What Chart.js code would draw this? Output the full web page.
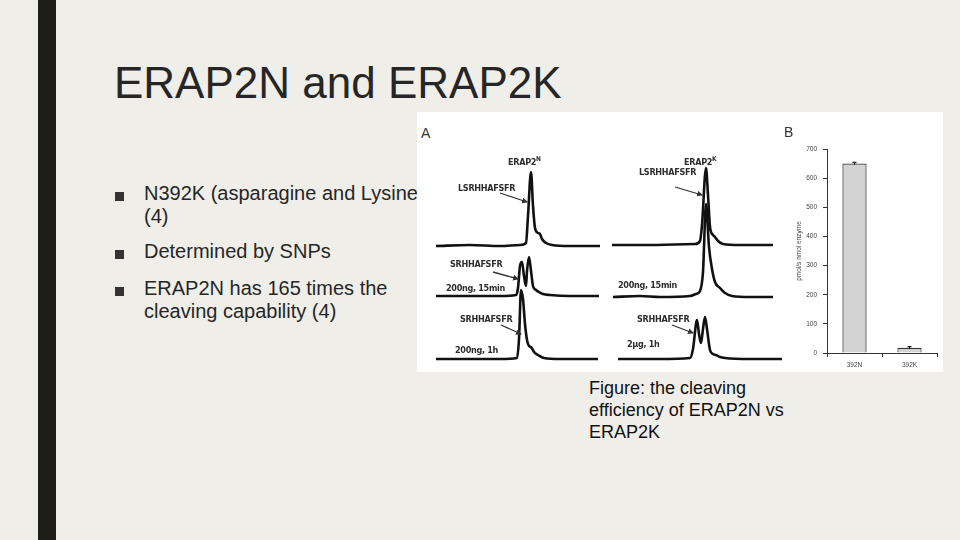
<!DOCTYPE html>
<html>
<head>
<meta charset="utf-8">
<script src="https://cdn.jsdelivr.net/npm/chart.js@4.4.0/dist/chart.umd.min.js"></script>
<style>
  html,body{margin:0;padding:0;}
  body{width:960px;height:540px;background:#efeee9;position:relative;overflow:hidden;font-family:"Liberation Sans",Arial,sans-serif;color:#262626;}
  .abs{position:absolute;white-space:nowrap;line-height:1;}
  .sq{position:absolute;width:9px;height:9px;background:#333;}
  .lbl{position:absolute;white-space:nowrap;line-height:1;font-family:"Liberation Sans Narrow","DejaVu Sans Condensed","Liberation Sans",sans-serif;font-weight:bold;font-size:9px;letter-spacing:-0.3px;color:#2e2e2e;z-index:3;}
  .lbl sup{font-size:6.5px;vertical-align:0;position:relative;top:-4px;}
  canvas{position:absolute;z-index:2;}
</style>
</head>
<body>
<div style="position:absolute;left:38px;top:0;width:18px;height:540px;background:#1d1f16;"></div>
<div class="abs" style="left:114px;top:61px;font-size:44px;">ERAP2N and ERAP2K</div>

<div class="sq" style="left:115px;top:192px;"></div>
<div class="abs" style="left:144px;top:183px;font-size:20px;">N392K (asparagine and Lysine)</div>
<div class="abs" style="left:144px;top:206px;font-size:20px;">(4)</div>
<div class="sq" style="left:115px;top:250px;"></div>
<div class="abs" style="left:144px;top:241px;font-size:20px;">Determined by SNPs</div>
<div class="sq" style="left:115px;top:287px;"></div>
<div class="abs" style="left:144px;top:278px;font-size:20px;">ERAP2N has 165 times the</div>
<div class="abs" style="left:144px;top:301px;font-size:20px;">cleaving capability (4)</div>

<div style="position:absolute;left:417px;top:112px;width:526px;height:260px;background:#ffffff;z-index:1;"></div>

<div class="abs" style="left:421px;top:126px;font-size:14px;color:#333;z-index:3;">A</div>
<div class="abs" style="left:784px;top:125px;font-size:14px;color:#333;z-index:3;">B</div>

<div class="lbl" style="left:508px;top:158px;">ERAP2<sup>N</sup></div>
<div class="lbl" style="left:458px;top:184px;">LSRHHAFSFR</div>
<div class="lbl" style="left:450px;top:260px;">SRHHAFSFR</div>
<div class="lbl" style="left:446px;top:284px;">200ng, 15min</div>
<div class="lbl" style="left:460px;top:315px;">SRHHAFSFR</div>
<div class="lbl" style="left:455px;top:346px;">200ng, 1h</div>
<div class="lbl" style="left:684px;top:158px;">ERAP2<sup>K</sup></div>
<div class="lbl" style="left:639px;top:168px;">LSRHHAFSFR</div>
<div class="lbl" style="left:618px;top:281px;">200ng, 15min</div>
<div class="lbl" style="left:637px;top:315px;">SRHHAFSFR</div>
<div class="lbl" style="left:627px;top:340px;">2μg, 1h</div>

<svg style="position:absolute;left:0;top:0;z-index:3;" width="960" height="540">
  <defs>
    <marker id="ah" markerWidth="6" markerHeight="6" refX="5" refY="3" orient="auto" markerUnits="userSpaceOnUse">
      <path d="M0,0 L6,3 L0,6 z" fill="#333"/>
    </marker>
  </defs>
  <g stroke="#333" stroke-width="1.3" marker-end="url(#ah)">
    <line x1="500" y1="193" x2="527" y2="202"/>
    <line x1="493" y1="272" x2="518" y2="279"/>
    <line x1="501" y1="325" x2="521" y2="334"/>
    <line x1="675" y1="187" x2="702" y2="195"/>
    <line x1="672" y1="325" x2="693" y2="333"/>
  </g>
</svg>

<canvas id="n1" width="175" height="110" style="left:430px;top:141px;"></canvas>
<canvas id="n2" width="175" height="110" style="left:430px;top:191px;"></canvas>
<canvas id="n3" width="175" height="110" style="left:430px;top:254px;"></canvas>
<canvas id="k1" width="180" height="110" style="left:607px;top:140px;"></canvas>
<canvas id="k2" width="180" height="110" style="left:607px;top:192px;"></canvas>
<canvas id="k3" width="180" height="110" style="left:607px;top:254px;"></canvas>
<canvas id="bar" width="163" height="244" style="left:780px;top:128px;"></canvas>

<div class="abs" style="left:589px;top:379px;font-size:18px;color:#111;">Figure: the cleaving</div>
<div class="abs" style="left:589px;top:401px;font-size:18px;color:#111;">efficiency of ERAP2N vs</div>
<div class="abs" style="left:589px;top:423px;font-size:18px;color:#111;">ERAP2K</div>

<script>
// ---- Panel A: chromatogram traces (retention time units, intensity units) ----
const nSubstrateTime = [6, 40, 70, 90, 96, 98, 101, 103, 105, 108, 110, 112, 116, 122, 140, 170];
const nSubstrateInt  = [0, 1, 0, 1, 3, 30, 74, 40, 18, 13, 12, 7, 3, 1, 0, 0];
const n15minTime = [6, 70, 86, 88, 90, 92, 94, 96, 97, 99, 101, 103, 106, 109, 113, 120, 140, 169];
const n15minInt  = [0, 0, 1, 8, 30, 34, 20, 10, 25, 39, 25, 10, 6, 4, 2, 1, 0, 0];
const n1hTime = [6, 70, 87, 89, 91, 93, 95, 97, 99, 101, 104, 108, 114, 130, 168];
const n1hInt  = [0, 0, 1, 20, 69, 60, 35, 19, 13, 12, 7, 4, 1, 0, 0];

const kSubstrateTime = [5, 43, 88, 93, 95, 99, 101, 103, 106, 108, 111, 116, 133, 166];
const kSubstrateInt  = [0, 0, 1, 4, 20, 77, 50, 18, 10, 8, 4, 1, 0, 0];
const k15minTime = [6, 33, 53, 83, 89, 93, 96, 99, 102, 105, 108, 113, 118, 125, 143, 166];
const k15minInt  = [0, 1, 0, 1, 3, 6, 25, 93, 50, 28, 15, 9, 4, 1, 0, 0];
const k1hTime = [11, 53, 83, 86, 90, 92, 94, 96, 98, 100, 103, 106, 109, 113, 118, 143, 175];
const k1hInt  = [0, 0, 1, 10, 39, 25, 16, 30, 42, 30, 9, 5, 4, 2, 1, 0, 0];

// ---- Panel B: bar chart ----
const barCategories = ['392N', '392K'];
const barValues = [650, 18];
const barErrors = [4, 4];
const yTickValues = [0, 100, 200, 300, 400, 500, 600, 700];
const yAxisTitle = 'pmol/s nmol enzyme';

function trace(id, times, ints, xMax) {
  new Chart(document.getElementById(id), {
    type: 'line',
    data: { datasets: [{
      data: times.map((t, i) => ({ x: t, y: ints[i] })),
      borderColor: '#111', borderWidth: 2.6, pointRadius: 0,
      cubicInterpolationMode: 'monotone', clip: false, fill: false
    }]},
    options: {
      responsive: false, animation: false, devicePixelRatio: 1, events: [],
      layout: { padding: 0 },
      plugins: { legend: { display: false }, tooltip: { enabled: false } },
      scales: {
        x: { type: 'linear', display: false, min: 0, max: xMax },
        y: { type: 'linear', display: false, min: -5, max: 105 }
      }
    }
  });
}
trace('n1', nSubstrateTime, nSubstrateInt, 175);
trace('n2', n15minTime, n15minInt, 175);
trace('n3', n1hTime, n1hInt, 175);
trace('k1', kSubstrateTime, kSubstrateInt, 180);
trace('k2', k15minTime, k15minInt, 180);
trace('k3', k1hTime, k1hInt, 180);

const errorBars = {
  id: 'errorBars',
  afterDatasetsDraw(chart) {
    const ctx = chart.ctx, y = chart.scales.y;
    const meta = chart.getDatasetMeta(0);
    ctx.save();
    ctx.strokeStyle = '#222'; ctx.lineWidth = 1.2;
    meta.data.forEach((bar, i) => {
      const top = y.getPixelForValue(barValues[i] + barErrors[i]);
      const bot = y.getPixelForValue(barValues[i] - barErrors[i]);
      ctx.beginPath();
      ctx.moveTo(bar.x, bot); ctx.lineTo(bar.x, top);
      ctx.moveTo(bar.x - 2, top); ctx.lineTo(bar.x + 2, top);
      ctx.stroke();
    });
    ctx.restore();
  }
};

new Chart(document.getElementById('bar'), {
  type: 'bar',
  data: { labels: barCategories, datasets: [{
    data: barValues, backgroundColor: '#d2d2d2', borderColor: '#333', borderWidth: 1.2,
    barPercentage: 0.44, categoryPercentage: 1
  }]},
  plugins: [errorBars],
  options: {
    responsive: false, animation: false, devicePixelRatio: 1, events: [],
    layout: { padding: { top: 21, right: 6, left: 0, bottom: 0 } },
    plugins: { legend: { display: false }, tooltip: { enabled: false } },
    scales: {
      x: {
        grid: { offset: true, drawOnChartArea: false, tickLength: 4, color: '#333' },
        border: { color: '#333', width: 1 },
        ticks: { font: { size: 6.5, family: 'Liberation Sans' }, color: '#444', padding: 4 },
        afterFit(s) { s.height = 19; }
      },
      y: {
        min: 0, max: 700,
        afterBuildTicks(s) { s.ticks = yTickValues.map(v => ({ value: v })); },
        grid: { drawOnChartArea: false, tickLength: 4, color: '#333' },
        border: { color: '#333', width: 1 },
        ticks: { font: { size: 6.5, family: 'Liberation Sans' }, color: '#444', padding: 6 },
        title: { display: true, text: yAxisTitle, font: { size: 6.5, family: 'Liberation Sans' }, color: '#444', padding: { top: 15, bottom: 0 } },
        afterFit(s) { s.width = 47; }
      }
    }
  }
});
</script>
</body>
</html>
